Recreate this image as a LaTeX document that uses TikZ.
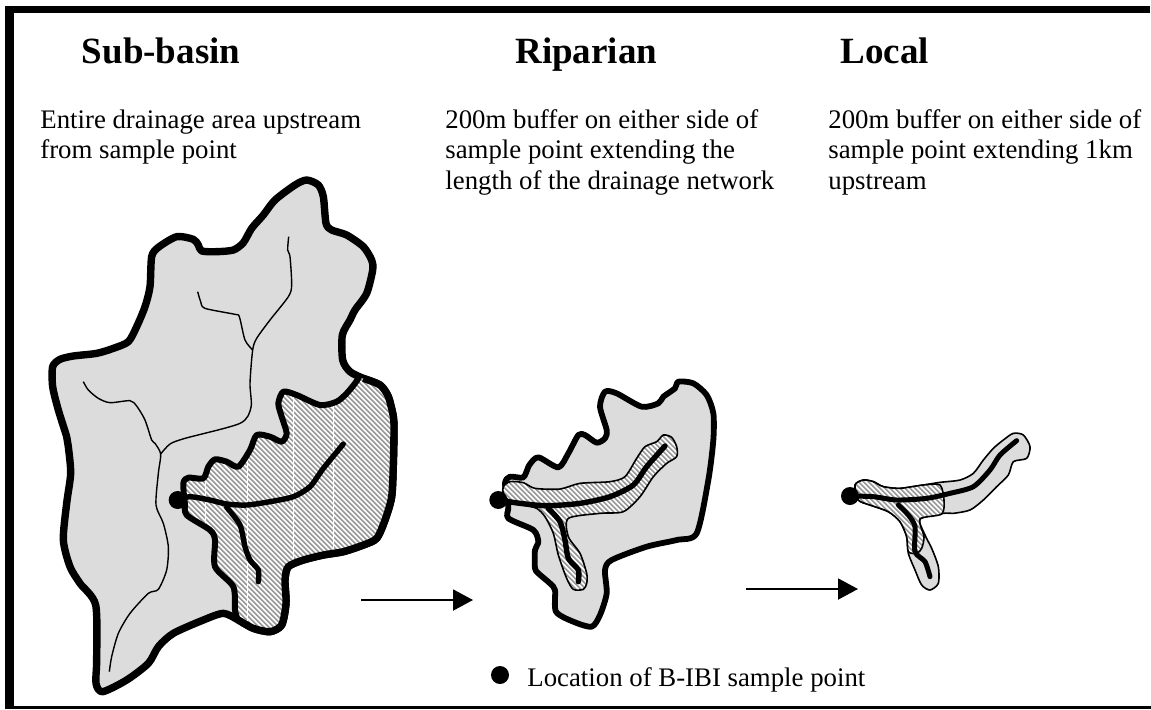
\documentclass[tikz,border=0pt]{standalone}
\usepackage{fontspec}
\setmainfont{Liberation Serif}
\usetikzlibrary{arrows.meta}
\definecolor{basin}{HTML}{DCDCDC}
\definecolor{hatchgray}{HTML}{989898}
\tikzset{
  zone/.style={fill=basin,draw=black,line width=#1,line join=round},
  edge/.style={draw=black,line width=#1,line join=round,line cap=round},
  stream/.style={draw=black,line width=#1,line cap=round,line join=round},
  thinriver/.style={draw=black,line width=0.7pt,line join=round},
  buffer/.style={draw=black,line width=0.8pt,line join=round},
  hatchline/.style={draw=hatchgray,line width=0.8pt},
  dotmark/.style={circle,fill=black,inner sep=0pt,minimum size=#1},
  titlelabel/.style={anchor=base west,inner sep=0pt,font=\fontsize{18.5}{21}\selectfont\bfseries},
  bodylabel/.style={anchor=north west,inner sep=0pt,align=left,font=\fontsize{13.4}{15.3}\selectfont},
  legendlabel/.style={anchor=base west,inner sep=0pt,font=\fontsize{13.4}{15.3}\selectfont},
  flow/.style={draw=black,line width=1pt,-{Triangle[length=10pt,width=10.5pt]}},
  smoothish/.style={smooth,tension=0.45},
  smoothring/.style={smooth cycle,tension=0.45},
  zoomscope/.style={shift={#1},x=0.166667pt,y=-0.166667pt}
}
\newcommand{\hatchfield}{%
  \foreach \i in {-1600,-1585,...,1600}{\draw[hatchline] (\i,0) -- ++(2000,2000);}%
}
\begin{document}
\begin{tikzpicture}[x=0.5pt,y=-0.5pt]
\useasboundingbox (0,0) rectangle (1151,709);
% frame
\fill[black] (5,5.5) rectangle (1150,13);
\fill[black] (5,5.5) rectangle (14,709);
\fill[black] (5,705.5) rectangle (1151,709);
% titles
\node[titlelabel] (t1) at (81.5,63) {Sub-basin};
\node[titlelabel] (t2) at (515,63) {Riparian};
\node[titlelabel] (t3) at (840,63) {Local};
\node[bodylabel] (b1) at (40,109) {Entire drainage area upstream\\from sample point};
\node[bodylabel] (b2) at (445,109) {200m buffer on either side of\\sample point extending the\\length of the drainage network};
\node[bodylabel] (b3) at (828,109) {200m buffer on either side of\\sample point extending 1km\\upstream};
% sub-basin
\begin{scope}[zoomscope={(30,170)}]
\path[zone=3.7pt] plot[smoothring] coordinates {(68,590)(90,568)(130,558)(200,550)(250,535)(295,515)(320,470)(345,410)(360,350)(365,260)(385,232)(440,200)(490,208)(505,225)(515,243)(560,245)(610,240)(640,218)(665,175)(700,135)(735,90)(795,45)(830,30)(865,45)(880,80)(888,160)(905,180)(950,195)(1000,230)(1025,270)(1028,300)(1010,370)(975,420)(960,450)(937,495)(938,570)(960,605)(1000,625)(1050,645)(1075,680)(1090,740)(1092,780)(1090,880)(1085,980)(1065,1050)(1040,1105)(1000,1125)(940,1145)(880,1155)(820,1170)(775,1190)(765,1230)(768,1300)(755,1365)(720,1385)(670,1375)(625,1350)(580,1330)(520,1350)(430,1390)(385,1430)(355,1480)(290,1530)(218,1565)(198,1540)(200,1470)(197,1305)(150,1240)(120,1190)(100,1110)(110,1000)(122,910)(115,830)(110,800)(85,720)(68,650)};
\begin{scope}
\clip plot[smoothring] coordinates {(465,990)(460,940)(475,923)(520,925)(535,890)(555,868)(590,875)(625,890)(660,840)(680,795)(720,800)(755,815)(770,790)(755,740)(745,700)(760,665)(800,675)(870,705)(920,695)(950,670)(975,640)(1000,625)(1050,645)(1075,680)(1090,740)(1092,780)(1090,880)(1085,980)(1065,1050)(1040,1105)(1000,1125)(940,1145)(880,1155)(820,1170)(775,1190)(765,1230)(768,1300)(755,1365)(720,1385)(670,1375)(620,1340)(610,1260)(555,1190)(555,1110)(540,1080)(470,1035)};
\fill[white] (0,0) rectangle (1200,1600);
\hatchfield
\foreach \v in {525,650,790,909}{\fill[white] (\v,600) rectangle (\v+3,1500);}
\end{scope}
\path[edge=3pt] plot[smoothish] coordinates {(465,1010)(460,940)(475,923)(520,925)(535,890)(555,868)(590,875)(625,890)(660,840)(680,795)(720,800)(755,815)(770,790)(755,740)(745,700)(760,665)(800,675)(870,705)(920,695)(950,670)(975,640)(985,625)};
\path[edge=3pt] plot[smoothish] coordinates {(465,1000)(470,1035)(540,1080)(555,1110)(555,1190)(610,1250)(615,1320)(622,1345)};
\path[zone=3.7pt,fill=none] plot[smoothish] coordinates {(1000,625)(1050,645)(1075,680)(1090,740)(1092,780)(1090,880)(1085,980)(1065,1050)(1040,1105)(1000,1125)(940,1145)(880,1155)(820,1170)(775,1190)(765,1230)(768,1300)(755,1365)(720,1385)(670,1375)(625,1350)};
% thin rivers
\path[thinriver] plot[smoothish] coordinates {(160,635)(175,660)(205,685)(240,698)(300,692)(320,708)(345,750)(365,810)(375,820)(392,852)(385,910)(378,1005)(400,1060)(415,1130)(410,1200)(385,1258)(355,1270)(300,1330)(265,1390)(245,1460)(238,1505)};
\path[thinriver] plot[smoothish] coordinates {(392,852)(420,822)(465,805)(630,760)(663,712)(660,640)(668,540)(680,505)(720,450)(775,380)(785,345)(780,260)(773,240)(776,200)};
\path[thinriver] plot[smoothish] coordinates {(668,540)(645,510)(628,440)(615,433)(525,415)(512,395)(503,365)};
% thick streams
\path[stream=2.7pt] plot[smoothish] coordinates {(445,990)(480,980)(540,990)(590,1002)(650,1005)(720,995)(790,980)(840,950)(880,895)(940,822)};
\path[stream=2.7pt] plot[smoothish] coordinates {(590,1012)(630,1065)(645,1130)(660,1170)(685,1200)(685,1235)};
\node[dotmark=9pt] (d1) at (443,990) {};
\end{scope}
% riparian
\begin{scope}[zoomscope={(470,340)}]
\path[zone=2.9pt] plot[smoothring] coordinates {(105,430)(120,410)(160,412)(178,375)(205,352)(265,382)(295,340)(325,285)(345,285)(380,308)(405,295)(410,270)(390,200)(405,155)(440,160)(515,200)(565,190)(580,170)(615,145)(625,125)(670,130)(710,165)(730,220)(730,300)(715,420)(680,580)(620,600)(530,620)(425,660)(405,690)(410,760)(390,825)(365,860)(310,845)(258,815)(255,750)(240,730)(205,700)(195,685)(195,630)(205,605)(190,570)(115,535)(115,500)};
\begin{scope}
\clip plot[smoothring] coordinates {(100,440)(120,425)(160,428)(195,445)(270,447)(330,430)(420,425)(465,410)(500,355)(525,320)(560,305)(580,285)(605,292)(620,320)(620,350)(590,370)(550,410)(510,470)(460,515)(390,520)(295,535)(295,590)(330,640)(350,700)(350,730)(340,748)(310,748)(290,715)(265,645)(250,580)(225,530)(200,505)(160,495)(120,485)(100,460)};
\fill[white] (0,0) rectangle (800,800);
\hatchfield
\end{scope}
\path[buffer] plot[smoothring] coordinates {(100,440)(120,425)(160,428)(195,445)(270,447)(330,430)(420,425)(465,410)(500,355)(525,320)(560,305)(580,285)(605,292)(620,320)(620,350)(590,370)(550,410)(510,470)(460,515)(390,520)(295,535)(295,590)(330,640)(350,700)(350,730)(340,748)(310,748)(290,715)(265,645)(250,580)(225,530)(200,505)(160,495)(120,485)(100,460)};
\path[stream=2.7pt] plot[smoothish] coordinates {(85,480)(150,490)(230,497)(330,490)(420,470)(490,435)(530,380)(585,318)};
\path[stream=2.7pt] plot[smoothish] coordinates {(235,505)(270,545)(285,600)(295,655)(325,690)(325,725)};
\node[dotmark=9pt] (d2) at (85,480) {};
\end{scope}
% local
\begin{scope}[zoomscope={(800,420)}]
\path[buffer,fill=basin] plot[smoothring] coordinates {(165,195)(190,180)(220,185)(250,200)(300,205)(370,195)(420,187)(480,180)(520,160)(550,120)(580,85)(610,60)(640,40)(670,45)(690,80)(680,115)(640,125)(625,165)(590,200)(550,240)(510,270)(460,280)(430,280)(360,297)(375,345)(395,385)(415,440)(415,490)(390,510)(365,495)(345,450)(325,400)(320,350)(300,305)(265,275)(210,255)(175,240)};
\begin{scope}
\clip plot[smoothring] coordinates {(165,195)(190,180)(220,185)(250,200)(300,205)(370,195)(420,195)(432,240)(425,282)(360,297)(372,350)(365,385)(350,400)(325,395)(320,350)(300,305)(265,275)(210,255)(175,240)};
\fill[white] (0,0) rectangle (800,600);
\hatchfield
\end{scope}
\path[buffer] plot[smoothring] coordinates {(165,195)(190,180)(220,185)(250,200)(300,205)(370,195)(420,195)(432,240)(425,282)(360,297)(372,350)(365,385)(350,400)(325,395)(320,350)(300,305)(265,275)(210,255)(175,240)};
\path[stream=2.5pt] plot[smoothish] coordinates {(150,228)(220,230)(290,240)(380,235)(450,220)(520,200)(570,150)(600,105)(650,62)};
\path[stream=2.5pt] plot[smoothish] coordinates {(295,255)(325,285)(345,320)(345,395)(375,425)(390,470)};
\node[dotmark=9pt] (d3) at (150,228) {};
\end{scope}
% arrows
\coordinate (a1s) at (361,600);
\coordinate (a1e) at (473,600);
\coordinate (a2s) at (746,589);
\coordinate (a2e) at (858,589);
\path[flow] (a1s) -- (a1e);
\path[flow] (a2s) -- (a2e);
% legend
\node[dotmark=9pt] (d4) at (500,675) {};
\node[legendlabel] (leg) at (527,686) {Location of B-IBI sample point};
\end{tikzpicture}
\end{document}
